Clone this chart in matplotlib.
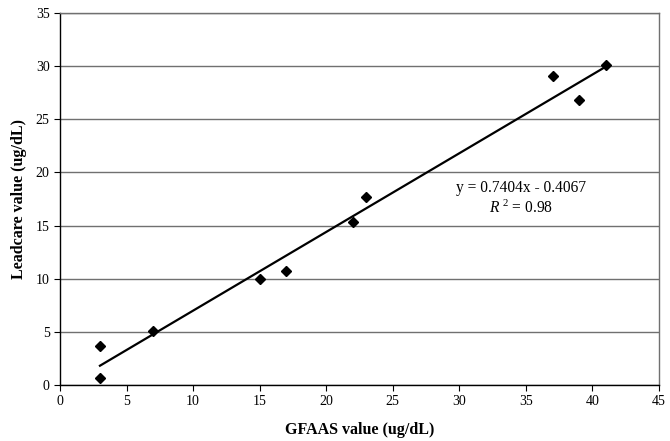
import numpy as np
from matplotlib import pyplot as plt

# GFAAS vs Leadcare readings (ug/dL)
gfaas = [3, 3, 7, 15, 17, 22, 23, 37, 39, 41]
leadcare = [0.7, 3.7, 5.1, 10.0, 10.7, 15.3, 17.7, 29.1, 26.8, 30.1]
x_ticks = list(range(0, 46, 5))
y_ticks = list(range(0, 36, 5))

plt.rcParams['font.family'] = ['Liberation Serif', 'DejaVu Serif']
plt.rcParams['mathtext.fontset'] = 'custom'
plt.rcParams['mathtext.rm'] = 'Liberation Serif'
plt.rcParams['mathtext.it'] = 'Liberation Serif:italic'

fig = plt.figure(figsize=(6.7, 4.41), dpi=100)
ax = fig.add_axes([0.0896, 0.127, 0.894, 0.8435])

x = np.array(gfaas)
y = np.array(leadcare)
slope, intercept = np.polyfit(x, y, 1)
xs = np.array([x.min(), x.max()])
ax.plot(xs, slope * xs + intercept, color='black', linewidth=1.6, zorder=2)

ax.plot(x, y, linestyle='none', marker='D', markersize=5.5, color='black', zorder=3)

ax.set_xlim(0, 45)
ax.set_ylim(0, 35)
ax.set_xticks(x_ticks)
ax.set_yticks(y_ticks)
ax.yaxis.grid(True, color='#707070', linewidth=1.0)
ax.set_axisbelow(True)

for side in ['top', 'right']:
    ax.spines[side].set_color('#707070')
    ax.spines[side].set_linewidth(1.0)
ax.spines['left'].set_linewidth(1.0)
ax.spines['bottom'].set_linewidth(1.0)
ax.tick_params(direction='out', length=4, width=0.8, labelsize=10)

ax.set_xlabel('GFAAS value (ug/dL)', fontsize=11.5, fontweight='bold', labelpad=10)
ax.set_ylabel('Leadcare value (ug/dL)', fontsize=11.5, fontweight='bold', labelpad=6)

ax.text(34.6, 18.5, 'y = 0.7404x - 0.4067', ha='center', va='center', fontsize=11.2)
ax.text(34.6, 16.6, r'$\it{R}^{\ 2}$ = 0.98', ha='center', va='center', fontsize=11.2)

fig.savefig('out.png', dpi=100, facecolor='white')
